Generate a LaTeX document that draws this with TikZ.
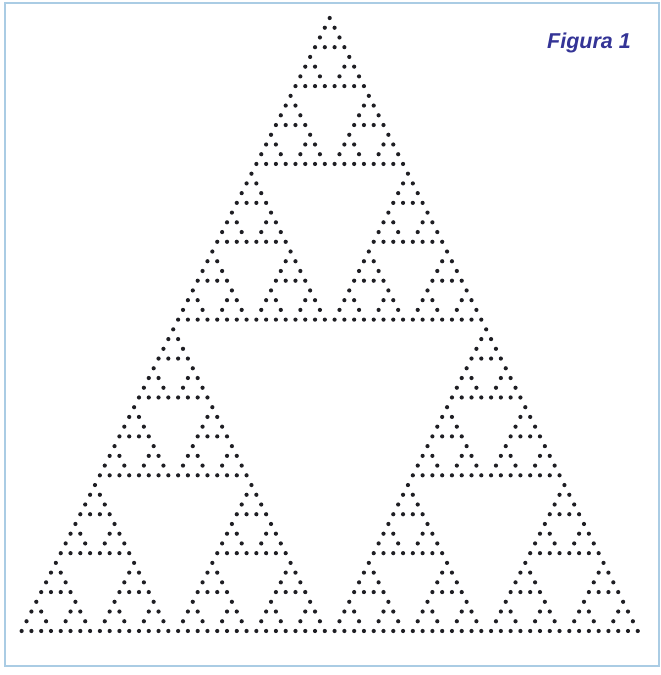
\documentclass[tikz,border=0pt]{standalone}
\usepackage{fontspec}
\setsansfont{Liberation Sans}
\usepackage{tikz}
\usetikzlibrary{positioning}
\definecolor{myframe}{RGB}{170,204,228}
\definecolor{mydot}{RGB}{30,30,35}
\definecolor{mytitle}{RGB}{52,52,150}
\tikzset{
  frame/.style={draw=myframe, line width=2.2pt},
  dotfill/.style={fill=mydot},
  title/.style={font=\sffamily\bfseries\itshape\fontsize{21.5}{24}\selectfont, text=mytitle, inner sep=0pt}
}
\newcommand{\dx}{9.78}
\newcommand{\dy}{9.73}
\begin{document}
\begin{tikzpicture}[x=1pt, y=-1pt]
  \useasboundingbox (0,0) rectangle (661,675);
  % Frame
  \draw[frame] (5,3) rectangle (659,666);
  \node[title, anchor=base east] (fig) at (631,48) {Figura 1};

  % Apex of the triangle
  \coordinate (apex) at (329.7,18);

  % Sierpinski dots, six levels of three copies
  \foreach \ra/\ha in {0/0, 1/-0.5, 1/0.5} {
    \foreach \rb/\hb in {0/0, 1/-0.5, 1/0.5} {
      \foreach \rc/\hc in {0/0, 1/-0.5, 1/0.5} {
        \foreach \rd/\hd in {0/0, 1/-0.5, 1/0.5} {
          \foreach \re/\he in {0/0, 1/-0.5, 1/0.5} {
            \foreach \rf/\hf in {0/0, 1/-0.5, 1/0.5} {
              \fill[dotfill] ([shift={({(\ha+2*\hb+4*\hc+8*\hd+16*\he+32*\hf)*\dx},{(\ra+2*\rb+4*\rc+8*\rd+16*\re+32*\rf)*\dy})}]apex) circle[radius=2.1];
            }
          }
        }
      }
    }
  }
\end{tikzpicture}
\end{document}
